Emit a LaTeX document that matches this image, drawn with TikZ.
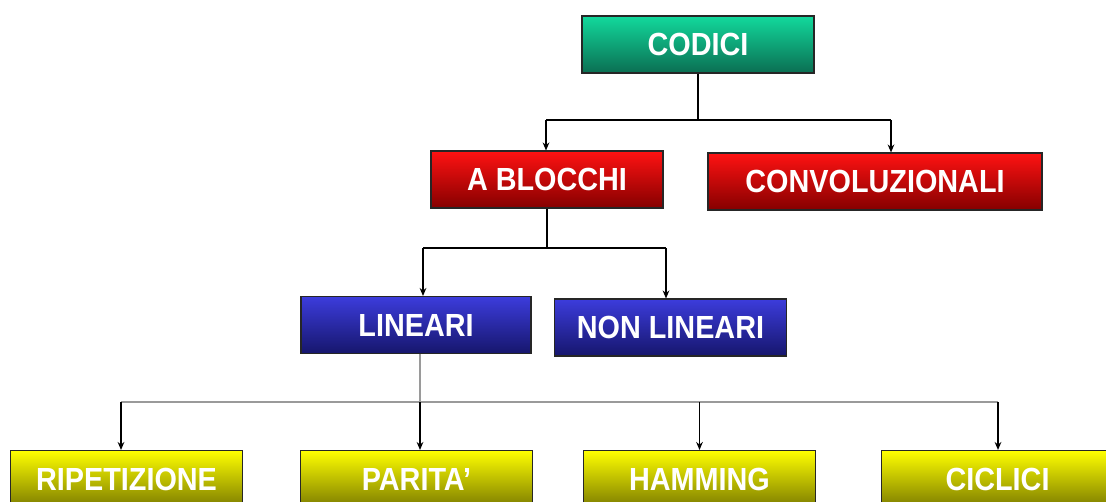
\documentclass[tikz,border=0pt]{standalone}
\usepackage{fontspec}
\setmainfont{Liberation Sans}
\newfontfamily\boxfont[FakeStretch=0.9]{Liberation Sans}
\definecolor{codGreenT}{HTML}{12D99C}
\definecolor{codGreenB}{HTML}{0B6E52}
\definecolor{codRedT}{HTML}{FF1212}
\definecolor{codRedB}{HTML}{850000}
\definecolor{codBlueT}{HTML}{3C3CDC}
\definecolor{codBlueB}{HTML}{16166C}
\definecolor{codYellowT}{HTML}{FFFF00}
\definecolor{codYellowB}{HTML}{7C7C00}
\definecolor{codGray}{HTML}{9A9A9A}
\usetikzlibrary{arrows.meta, positioning}

\begin{document}
\begin{tikzpicture}[x=0.75pt, y=-0.75pt,
  codbox/.style={draw=black!85, line width=0.8pt, minimum width=174pt,
    minimum height=42.75pt, inner sep=0pt, text=white,
    font=\boxfont\fontsize{24}{26}\selectfont\bfseries},
  greenbox/.style={codbox, top color=codGreenT, bottom color=codGreenB},
  redbox/.style={codbox, top color=codRedT, bottom color=codRedB},
  bluebox/.style={codbox, top color=codBlueT, bottom color=codBlueB},
  yellowbox/.style={codbox, top color=codYellowT, bottom color=codYellowB},
  link/.style={line width=1pt, black},
  arr/.style={link, -{Stealth[length=6pt, width=5pt]}}]

  \useasboundingbox (0,0) rectangle (1106,501);

  \node[greenbox] (cod) at (698,44.5) {CODICI};
  \node[redbox] (blo) at (547,179.5) {A BLOCCHI};
  \node[redbox, minimum width=250.5pt] (conv) at (875,181.5) {CONVOLUZIONALI};
  \node[bluebox, minimum width=172.5pt] (lin) at (416,325) {LINEARI};
  \node[bluebox] (nonlin) at (670.5,327.5) {NON LINEARI};
  \node[yellowbox] (rip) at (126.5,479) {RIPETIZIONE};
  \node[yellowbox] (par) at (416.5,479) {PARITA’};
  \node[yellowbox] (ham) at (699.5,479) {HAMMING};
  \node[yellowbox] (cic) at (997.5,479) {CICLICI};

  % codici -> a blocchi / convoluzionali
  \coordinate (topL) at (546,120);
  \coordinate (topR) at (891,120);
  \draw[link] (cod.south) -- (cod.south |- topL);
  \draw[link] (topL) -- (topR);
  \draw[arr] (topL) -- (topL |- blo.north);
  \draw[arr] (topR) -- (topR |- conv.north);

  % a blocchi -> lineari / non lineari
  \coordinate (midL) at (423,248);
  \coordinate (midR) at (666,248);
  \draw[link] (blo.south) -- (blo.south |- midL);
  \draw[link] (midL) -- (midR);
  \draw[arr] (midL) -- (midL |- lin.north);
  \draw[arr] (midR) -- (midR |- nonlin.north);

  % lineari -> bottom row
  \coordinate (linOut) at (420,0);
  \coordinate (lowL) at (121,402);
  \coordinate (lowR) at (998,402);
  \draw[link, codGray] (linOut |- lin.south) -- (linOut |- lowL);
  \draw[link, codGray] (lowL) -- (lowR);
  \draw[arr] (lowL) -- (lowL |- rip.north);
  \draw[arr] (linOut |- lowL) -- (linOut |- par.north);
  \draw[arr] (ham.north |- lowL) -- (ham.north);
  \draw[arr] (lowR) -- (lowR |- cic.north);
\end{tikzpicture}
\end{document}
